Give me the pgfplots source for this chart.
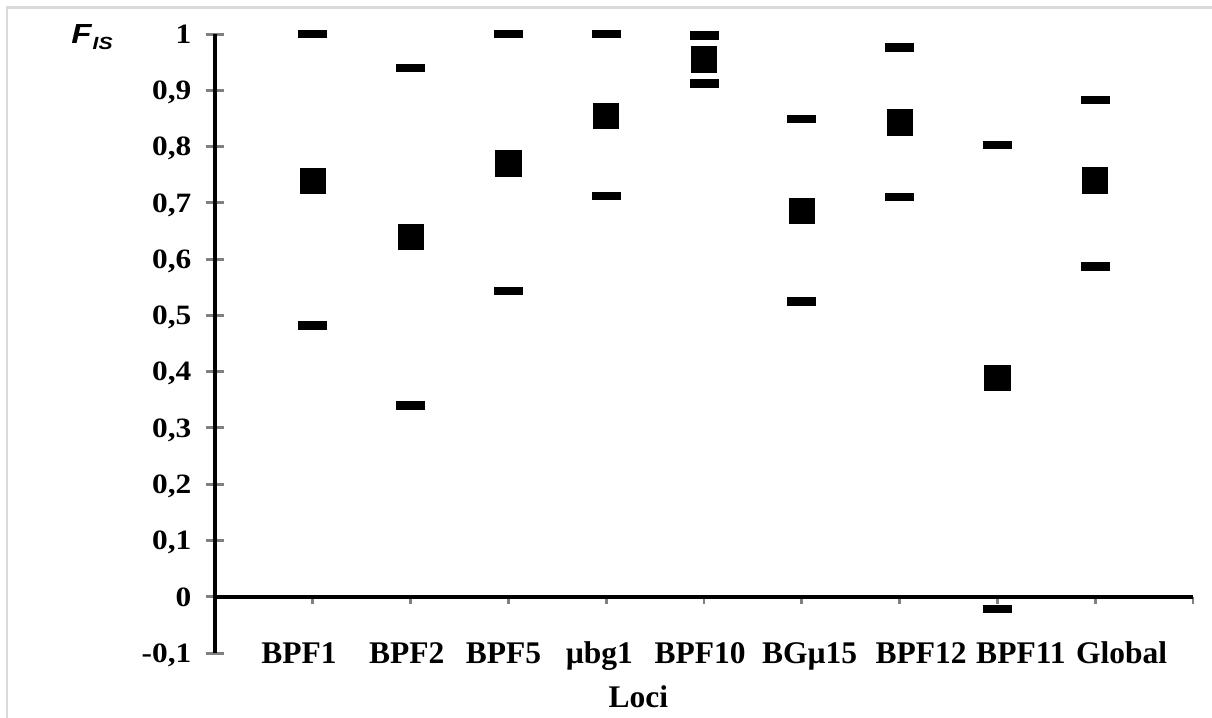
\documentclass[border=0pt]{standalone}
\usepackage{fontspec}
\setmainfont{Liberation Serif}
\newfontfamily\tickfont{Liberation Serif}[FakeStretch=1.12]
\newfontfamily\titlefont{Liberation Sans}[FakeStretch=1.2]
\setsansfont{Liberation Sans}
\usepackage{pgfplots}
\pgfplotsset{compat=1.18}

% F_IS point estimates with upper and lower limits, per locus (x = 0..8)
\pgfplotstableread{
x   fis     upper   lower
0   0.739   1.000   0.482
1   0.640   0.940   0.340
2   0.770   1.000   0.543
3   0.854   1.000   0.712
4   0.955   0.997   0.912
5   0.685   0.849   0.525
6   0.843   0.976   0.710
7   0.389   0.803   -0.022
8   0.740   0.883   0.587
}\fisdata

\begin{document}
\begin{tikzpicture}
\path[use as bounding box] (0,0) rectangle (606pt,-359pt);
% light frame along the top and left edges
\draw[line width=1.2pt, black!15] (3.6pt,-359pt) -- (3.6pt,-3.8pt) -- (606pt,-3.8pt);
% axis title
\node[anchor=base west, inner sep=0pt,
      font=\titlefont\bfseries\itshape\fontsize{13.8pt}{15pt}\selectfont]
  at (35.5pt,-21.6pt) {F\kern0.5pt\raisebox{-3.2pt}{\fontsize{8.8pt}{10pt}\selectfont IS}};
\begin{axis}[
  at={(107.5pt,-326.5pt)}, anchor=south west,
  scale only axis, width=489pt, height=309.5pt,
  xmin=-1, xmax=9, ymin=-0.1, ymax=1,
  axis x line*=middle, axis y line*=left,
  axis line style={line width=1.8pt},
  clip=false,
  xtick={-1,0,1,2,3,4,5,6,7,8,9}, xticklabels={},
  xtick align=outside,
  xtick style={line width=1.4pt, /pgfplots/major tick length=3.5pt},
  ytick={-0.1,0,0.1,0.2,0.3,0.4,0.5,0.6,0.7,0.8,0.9,1},
  ytick align=center,
  ytick style={line width=1.5pt, /pgfplots/major tick length=9.5pt},
  yticklabel style={anchor=east, text depth=0pt, inner sep=0pt, xshift=-9.5pt,
     font=\tickfont\bfseries\fontsize{14pt}{16pt}\selectfont,
     /pgf/number format/.cd, use comma, fixed, precision=1, assume math mode=true},
]
\addplot[only marks, mark=-, mark size=7.25pt, mark options={line width=4.2pt}]
  table[x=x, y=upper] {\fisdata};
\addplot[only marks, mark=-, mark size=7.25pt, mark options={line width=4.2pt}]
  table[x=x, y=lower] {\fisdata};
\addplot[only marks, mark=square*, mark size=6.3pt,
  mark options={fill=black, draw=black, line width=0.4pt, rounded corners=0.6pt}]
  table[x=x, y=fis] {\fisdata};

\begin{scope}[every node/.style={anchor=base, inner sep=0pt, yshift=-5.25pt,
     font=\bfseries\fontsize{15.75pt}{18pt}\selectfont}]
\node at (axis cs:-0.14,-0.1) {BPF1};
\node at (axis cs:0.96,-0.1) {BPF2};
\node at (axis cs:1.95,-0.1) {BPF5};
\node at (axis cs:2.93,-0.1) {µbg1};
\node at (axis cs:3.96,-0.1) {BPF10};
\node at (axis cs:5.08,-0.1) {BGµ15};
\node at (axis cs:6.22,-0.1) {BPF12};
\node at (axis cs:7.24,-0.1) {BPF11};
\node at (axis cs:8.27,-0.1) {Global};
\end{scope}
\node[anchor=base, inner sep=0pt, font=\bfseries\fontsize{15.75pt}{18pt}\selectfont]
  at (axis cs:3.33,-0.1963) {Loci};
\end{axis}
\end{tikzpicture}
\end{document}
